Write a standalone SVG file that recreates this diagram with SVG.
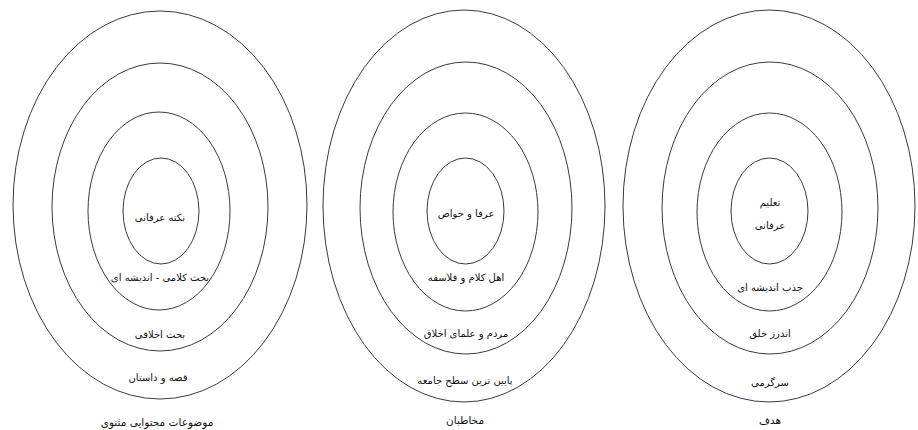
<svg xmlns="http://www.w3.org/2000/svg" width="918" height="430" viewBox="0 0 918 430">
<style>
.ring{fill:none;stroke:#3a3a3a;stroke-width:1}
.t{font-family:"DejaVu Sans","Noto Sans",sans-serif;font-size:10px;fill:#111;text-anchor:middle;direction:rtl}
.h{font-size:10.5px}
</style>
<rect width="918" height="430" fill="#ffffff"/>
<g id="diagram-content">
  <g id="c1-outer"><ellipse class="ring" cx="160" cy="205" rx="147" ry="194"/><text class="t" x="158" y="381">قصه و داستان</text></g>
  <g id="c1-second"><ellipse class="ring" cx="160" cy="207" rx="108" ry="144"/><text class="t" x="160" y="338">بحث اخلاقی</text></g>
  <g id="c1-third"><ellipse class="ring" cx="159" cy="211" rx="71" ry="99"/><text class="t" x="160" y="281">بحث کلامی - اندیشه ای</text></g>
  <g id="c1-inner"><ellipse class="ring" cx="161" cy="211" rx="38" ry="53"/><text class="t" x="160" y="221">نکته عرفانی</text></g>
  <g id="c1-title"><text class="t h" x="157" y="426">موضوعات محتوایی مثنوی</text></g>

  <g id="c2-outer"><ellipse class="ring" cx="464" cy="206" rx="141" ry="196"/><text class="t" x="465" y="384">پایین ترین سطح جامعه</text></g>
  <g id="c2-second"><ellipse class="ring" cx="466" cy="208" rx="106" ry="146"/><text class="t" x="466" y="337">مردم و علمای اخلاق</text></g>
  <g id="c2-third"><ellipse class="ring" cx="465.5" cy="212" rx="72.5" ry="99"/><text class="t" x="466" y="281">اهل کلام و فلاسفه</text></g>
  <g id="c2-inner"><ellipse class="ring" cx="465.5" cy="211" rx="38.5" ry="53"/><text class="t" x="466" y="217">عرفا و خواص</text></g>
  <g id="c2-title"><text class="t h" x="465" y="424">مخاطبان</text></g>

  <g id="c3-outer"><ellipse class="ring" cx="769" cy="206" rx="146" ry="196"/><text class="t" x="770" y="386">سرگرمی</text></g>
  <g id="c3-second"><ellipse class="ring" cx="770" cy="208" rx="108" ry="146"/><text class="t" x="770" y="337">اندرز خلق</text></g>
  <g id="c3-third"><ellipse class="ring" cx="769.5" cy="212" rx="72.5" ry="99"/><text class="t" x="770" y="291">جذب اندیشه ای</text></g>
  <g id="c3-inner"><ellipse class="ring" cx="769.5" cy="211" rx="38.5" ry="53"/><text class="t" x="770" y="206">تعلیم</text><text class="t" x="770" y="229">عرفانی</text></g>
  <g id="c3-title"><text class="t h" x="770" y="424">هدف</text></g>
</g>
<g id="connectors"></g>
</svg>
